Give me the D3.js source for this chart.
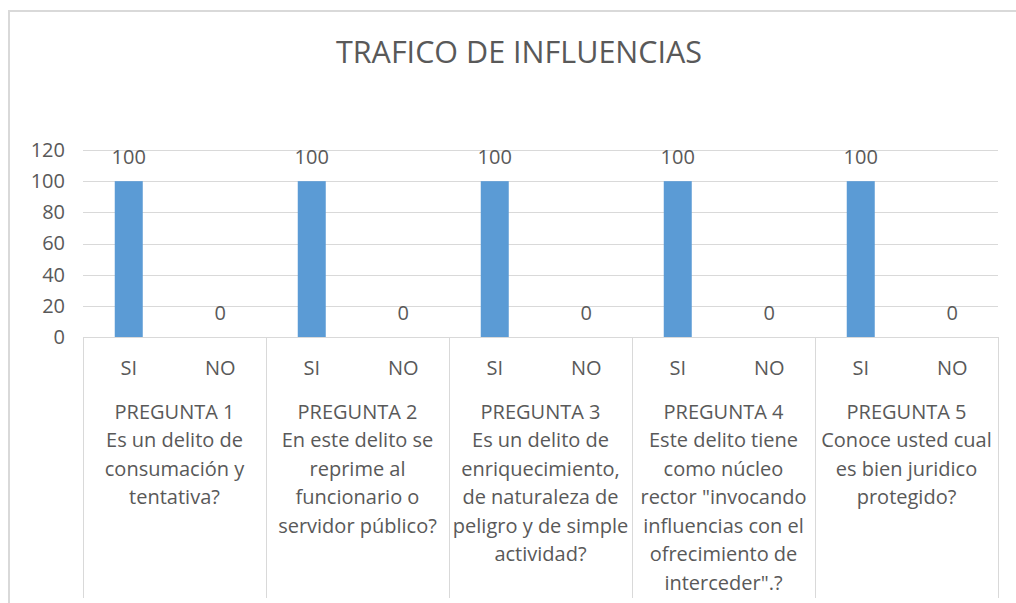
<!DOCTYPE html>
<html><head><meta charset="utf-8">
<script src="https://cdn.jsdelivr.net/npm/d3@7"></script>
<style>body{margin:0;background:#fff}svg{display:block}text{font-family:"Open Sans",Lato,sans-serif;fill:#595959}</style>
</head><body><svg id="c" width="1016" height="603"></svg>
<script>
const title = "TRAFICO DE INFLUENCIAS";
const groups = ["PREGUNTA 1","PREGUNTA 2","PREGUNTA 3","PREGUNTA 4","PREGUNTA 5"];
const groupText = [
  ["PREGUNTA 1","Es un delito de","consumación y","tentativa?"],
  ["PREGUNTA 2","En este delito se","reprime al","funcionario o","servidor público?"],
  ["PREGUNTA 3","Es un delito de","enriquecimiento,","de naturaleza de","peligro y de simple","actividad?"],
  ["PREGUNTA 4","Este delito tiene","como núcleo","rector \"invocando","influencias con el","ofrecimiento de","interceder\".?"],
  ["PREGUNTA 5","Conoce usted cual","es bien juridico","protegido?"]
];
const answers = ["SI","NO"];
const siValues = [100,100,100,100,100];
const noValues = [0,0,0,0,0];
const yTicks = [0,20,40,60,80,100,120];

const svg = d3.select("#c");
const L = 83, R = 998, T = 150, B = 337;
const FS = "20px";

svg.append("path").attr("d","M9,603 V11 H1016").attr("fill","none").attr("stroke","#d9d9d9").attr("stroke-width",2);

svg.append("text").attr("x",519).attr("y",63).attr("text-anchor","middle")
  .style("font-size","30.5px").text(title);

const y = d3.scaleLinear().domain([0,120]).range([B,T]);
const x0 = d3.scaleBand().domain(groups).range([L,R]);
const x1 = d3.scaleBand().domain(answers).range([0,x0.bandwidth()]);

svg.append("g").selectAll("line").data(yTicks.filter(d=>d>0)).join("line")
  .attr("x1",L).attr("x2",R).attr("y1",d=>Math.round(y(d))+0.5).attr("y2",d=>Math.round(y(d))+0.5)
  .attr("stroke","#d9d9d9").attr("stroke-width",1);

const yAxis = d3.axisLeft(y).tickValues(yTicks).tickSize(0).tickPadding(0);
const ya = svg.append("g").attr("transform",`translate(${65},0)`).call(yAxis);
ya.select(".domain").remove();
ya.selectAll("text").style("font-size",FS).style("fill","#595959").style("font-family","'Open Sans',sans-serif");

const data = [];
groups.forEach((g,i)=>{ data.push({g,a:"SI",v:siValues[i]}); data.push({g,a:"NO",v:noValues[i]}); });
const bw = 28;
svg.append("g").selectAll("rect").data(data).join("rect")
  .attr("x",d=>x0(d.g)+x1(d.a)+x1.bandwidth()/2-bw/2).attr("width",bw)
  .attr("y",d=>y(d.v)).attr("height",d=>y(0)-y(d.v)).attr("fill","#5B9BD5");

svg.append("g").selectAll("text").data(data).join("text")
  .attr("x",d=>x0(d.g)+x1(d.a)+x1.bandwidth()/2).attr("y",d=>y(d.v)-17)
  .attr("text-anchor","middle").style("font-size",FS).text(d=>d.v);

svg.append("line").attr("x1",L).attr("x2",R).attr("y1",B+0.5).attr("y2",B+0.5).attr("stroke","#d9d9d9");
const seps = groups.map(g=>x0(g)).concat([R]);
svg.append("g").selectAll("line").data(seps).join("line")
  .attr("x1",d=>Math.round(d)+0.5).attr("x2",d=>Math.round(d)+0.5).attr("y1",B).attr("y2",598)
  .attr("stroke","#d9d9d9");

svg.append("g").selectAll("text").data(data).join("text")
  .attr("x",d=>x0(d.g)+x1(d.a)+x1.bandwidth()/2).attr("y",374.5)
  .attr("text-anchor","middle").style("font-size",FS).text(d=>d.a);

groups.forEach((g,i)=>{
  const t = svg.append("text").attr("text-anchor","middle").style("font-size",FS);
  groupText[i].forEach((line,j)=>{
    t.append("tspan").attr("x",x0(g)+x0.bandwidth()/2).attr("y",418.5+j*28.5).text(line);
  });
});
</script></body></html>
